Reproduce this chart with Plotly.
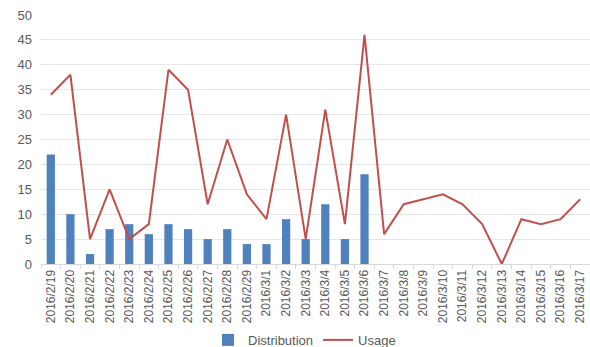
import plotly.graph_objects as go

dates = [
    "2016/2/19", "2016/2/20", "2016/2/21", "2016/2/22", "2016/2/23", "2016/2/24",
    "2016/2/25", "2016/2/26", "2016/2/27", "2016/2/28", "2016/2/29", "2016/3/1",
    "2016/3/2", "2016/3/3", "2016/3/4", "2016/3/5", "2016/3/6", "2016/3/7",
    "2016/3/8", "2016/3/9", "2016/3/10", "2016/3/11", "2016/3/12", "2016/3/13",
    "2016/3/14", "2016/3/15", "2016/3/16", "2016/3/17",
]
distribution = [22, 10, 2, 7, 8, 6, 8, 7, 5, 7, 4, 4, 9, 5, 12, 5, 18,
                None, None, None, None, None, None, None, None, None, None, None]
usage = [34, 38, 5, 15, 5, 8, 39, 35, 12, 25, 14, 9, 30, 5, 31, 8, 46,
         6, 12, 13, 14, 12, 8, 0, 9, 8, 9, 13]

fig = go.Figure()
fig.add_trace(go.Bar(x=dates, y=distribution, name="Distribution",
                     marker=dict(color="#4F81BD", line=dict(width=0)), width=0.42))
fig.add_trace(go.Scatter(x=dates, y=usage, name="Usage", mode="lines",
                         line=dict(color="#C0504D", width=2)))

fig.update_layout(
    width=590, height=347,
    margin=dict(l=41, r=0, t=15, b=83, autoexpand=False),
    paper_bgcolor="white", plot_bgcolor="white",
    font=dict(family="Liberation Sans, Arial, sans-serif", color="#595959"),
    showlegend=True,
    legend=dict(orientation="h", x=0.48, xanchor="center", y=-0.305, yanchor="middle",
                font=dict(size=13, color="#595959"), itemwidth=30,
                tracegroupgap=0),
    bargap=0.58,
)
fig.update_xaxes(
    type="category", tickangle=-90, tickfont=dict(size=12, color="#595959"),
    automargin=False,
    showgrid=False, showline=True, linecolor="#D9D9D9", linewidth=1,
    ticks="outside", tickson="boundaries", tickcolor="#D9D9D9", ticklen=4,
    range=[-0.5, 27.5],
)
fig.update_yaxes(
    range=[0, 50], dtick=5, tickfont=dict(size=13, color="#595959"),
    automargin=False,
    showgrid=True, gridcolor="#E6E6E6", gridwidth=1, zeroline=False,
    showline=False, ticks="", ticklabelstandoff=8,
)

fig.write_html("out.html")
